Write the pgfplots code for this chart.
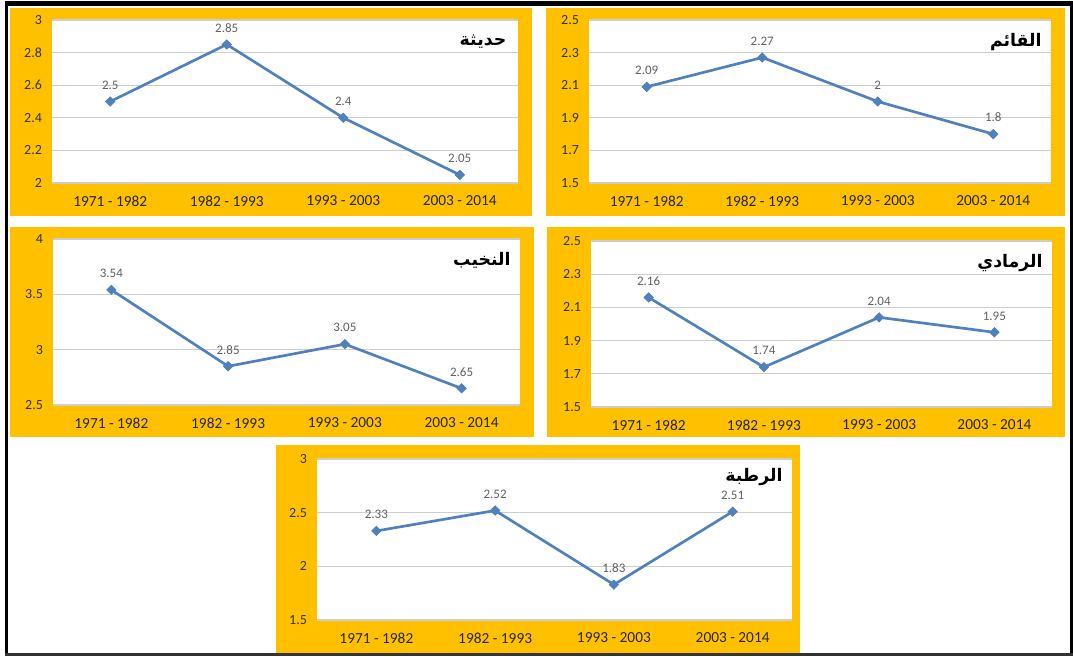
\documentclass[border=0pt]{standalone}
\usepackage{fontspec}
\setmainfont{Carlito}
\newfontfamily\arabicfont[Script=Arabic]{DejaVu Sans}
\TeXXeTstate=1
\usepackage{pgfplots}
\pgfplotsset{compat=1.18}
\definecolor{gold}{RGB}{255,192,0}
\definecolor{lineblue}{RGB}{79,129,189}
\definecolor{gridgray}{RGB}{205,205,205}

\pgfplotsset{pan/.style={
  scale only axis,
  anchor=south west,
  xmin=-0.5, xmax=3.5,
  xtick={0,1,2,3},
  xticklabels={1971 - 1982,1982 - 1993,1993 - 2003,2003 - 2014},
  axis line style={draw=none},
  major tick length=0pt,
  ymajorgrids, grid style={gridgray, line width=0.8pt},
  axis background/.style={fill=white},
  /pgf/number format/assume math mode=true,
  tick label style={font=\fontsize{10.5}{12}\selectfont, text=black!80},
  xticklabel style={yshift=-6pt, font=\fontsize{11.5}{13}\selectfont, text=black!85},
  yticklabel style={xshift=-4pt},
  nodes near coords,
  every node near coord/.append style={font=\fontsize{9.75}{11}\selectfont, text=black!62, anchor=south, yshift=5.5pt},
  clip=false,
},
ser/.style={lineblue, line width=2pt, mark=square*, mark size=2.5pt, mark options={rotate=45, fill=lineblue, draw=lineblue, line width=0.5pt}},
}
\tikzset{ttl/.style={anchor=north east, font=\arabicfont\bfseries\fontsize{13}{15}\selectfont, text=black}}

\begin{document}
\begin{tikzpicture}
\path[use as bounding box] (0,0) rectangle (804.75pt,-492pt);
\begin{scope}[x=0.75pt,y=-0.75pt]
\fill[gold] (10,8) rectangle (532,216);
\fill[gold] (546,8) rectangle (1065,216);
\fill[gold] (10,227) rectangle (534,437);
\fill[gold] (547,227) rectangle (1065,437);
\fill[gold] (276,445) rectangle (800,653);
\end{scope}

% Haditha
\begin{axis}[pan, at={(39pt,-137.25pt)}, width=349.5pt, height=122.25pt,
  ymin=2, ymax=3, ytick={2,2.2,2.4,2.6,2.8,3}]
\addplot[ser] coordinates {(0,2.5) (1,2.85) (2,2.4) (3,2.05)};
\node[ttl] at (rel axis cs:0.985,0.94) {\beginR حديثة\endR};
\end{axis}

% Al-Qaim
\begin{axis}[pan, at={(441.75pt,-137.25pt)}, width=346.5pt, height=122.25pt,
  ymin=1.5, ymax=2.5, ytick={1.5,1.7,1.9,2.1,2.3,2.5}]
\addplot[ser] coordinates {(0,2.09) (1,2.27) (2,2) (3,1.8)};
\node[ttl] at (rel axis cs:0.99,0.95) {\beginR القائم\endR};
\end{axis}

% Nukhaib
\begin{axis}[pan, at={(39.75pt,-303.75pt)}, width=350.25pt, height=124.5pt,
  ymin=2.5, ymax=4, ytick={2.5,3,3.5,4}]
\addplot[ser] coordinates {(0,3.54) (1,2.85) (2,3.05) (3,2.65)};
\node[ttl] at (rel axis cs:0.99,0.95) {\beginR النخيب\endR};
\end{axis}

% Ramadi
\begin{axis}[pan, at={(443.25pt,-305.25pt)}, width=345.75pt, height=124.5pt,
  ymin=1.5, ymax=2.5, ytick={1.5,1.7,1.9,2.1,2.3,2.5}]
\addplot[ser] coordinates {(0,2.16) (1,1.74) (2,2.04) (3,1.95)};
\node[ttl] at (rel axis cs:0.99,0.95) {\beginR الرمادي\endR};
\end{axis}

% Rutba
\begin{axis}[pan, at={(237.75pt,-465pt)}, width=356.25pt, height=120.75pt,
  ymin=1.5, ymax=3, ytick={1.5,2,2.5,3}]
\addplot[ser] coordinates {(0,2.33) (1,2.52) (2,1.83) (3,2.51)};
\node[ttl] at (rel axis cs:0.99,0.97) {\beginR الرطبة\endR};
\end{axis}

\begin{scope}[x=0.75pt,y=-0.75pt]
\fill[black] (5,1) rectangle (1073,6);
\fill[black] (5,1) rectangle (8,656);
\fill[black] (1070,1) rectangle (1073,656);
\fill[black!80] (5,653) rectangle (1073,656);
\end{scope}
\end{tikzpicture}
\end{document}
